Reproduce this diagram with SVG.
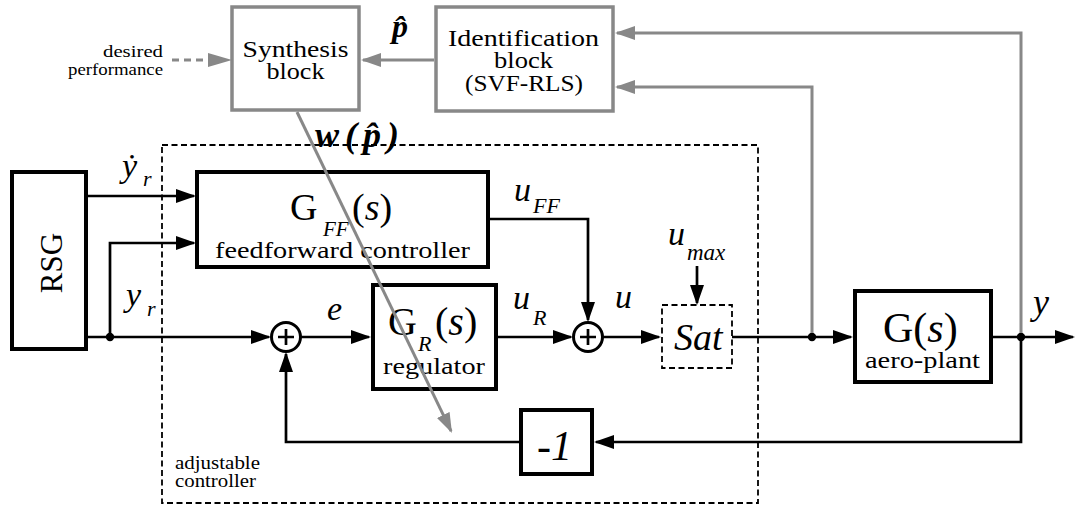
<svg xmlns="http://www.w3.org/2000/svg" width="1075" height="506" viewBox="0 0 1075 506" font-family="Liberation Serif">
<style>
text{font-family:'Liberation Serif','DejaVu Serif',serif}
.t{fill:#000}
.i{font-style:italic}
.b{font-weight:bold}
.blk{fill:#fff;stroke:#000;stroke-width:4}
.gbx{fill:#fff;stroke:#888;stroke-width:3.5}
.ln{fill:none;stroke:#000;stroke-width:2.7}
.lna{fill:none;stroke:#000;stroke-width:2.7;marker-end:url(#ab)}
.lng{fill:none;stroke:#888;stroke-width:3;marker-end:url(#ag)}
.sum{fill:#fff;stroke:#000;stroke-width:3}
.dsh{fill:none;stroke:#000;stroke-width:1.8;stroke-dasharray:6 3.5}
</style>
<defs>
<marker id="ab" markerUnits="userSpaceOnUse" markerWidth="20" markerHeight="14" refX="18" refY="7" orient="auto"><path d="M0,0 L20,7 L0,14 z" fill="#000"/></marker>
<marker id="ag" markerUnits="userSpaceOnUse" markerWidth="20" markerHeight="14" refX="18" refY="7" orient="auto"><path d="M0,0 L20,7 L0,14 z" fill="#888"/></marker>
</defs>
<rect width="1075" height="506" fill="#fff"/>

<g id="adjustable-controller">
<rect class="dsh" x="162" y="145" width="596" height="358"/>
<text class="t" font-size="18" x="175" y="469" textLength="85" lengthAdjust="spacingAndGlyphs">adjustable</text>
<text class="t" font-size="18" x="175" y="487" textLength="81" lengthAdjust="spacingAndGlyphs">controller</text>
</g>

<g id="synthesis">
<rect class="gbx" x="232" y="7" width="127" height="103"/>
<text class="t" font-size="24" x="242.5" y="57" textLength="106" lengthAdjust="spacingAndGlyphs">Synthesis</text>
<text class="t" font-size="24" x="266.5" y="79" textLength="58" lengthAdjust="spacingAndGlyphs">block</text>
</g>

<g id="identification">
<rect class="gbx" x="436" y="7" width="177" height="104"/>
<text class="t" font-size="23" x="448" y="46" textLength="151" lengthAdjust="spacingAndGlyphs">Identification</text>
<text class="t" font-size="23" x="494" y="68" textLength="59" lengthAdjust="spacingAndGlyphs">block</text>
<text class="t" font-size="23" x="465" y="91" textLength="118" lengthAdjust="spacingAndGlyphs">(SVF-RLS)</text>
</g>

<g id="desired-performance">
<text class="t" font-size="17" x="163" y="57" text-anchor="end" textLength="60" lengthAdjust="spacingAndGlyphs">desired</text>
<text class="t" font-size="17" x="163" y="75" text-anchor="end" textLength="95" lengthAdjust="spacingAndGlyphs">performance</text>
</g>

<g id="rsg">
<rect class="blk" x="12" y="172" width="74" height="177"/>
<text class="t" font-size="31" x="62" y="263" text-anchor="middle" transform="rotate(-90 62 263)">RSG</text>
</g>

<g id="feedforward">
<rect class="blk" x="197" y="172" width="291" height="95"/>
<text class="t" font-size="38" x="290" y="220">G</text>
<text class="t i" font-size="21" x="323" y="236">FF</text>
<text class="t" font-size="38" x="352" y="220">(<tspan class="i">s</tspan>)</text>
<text class="t" font-size="23" x="215" y="258" textLength="255" lengthAdjust="spacingAndGlyphs">feedforward controller</text>
</g>

<g id="regulator">
<rect class="blk" x="373" y="285" width="123" height="104"/>
<text class="t" font-size="40" x="388" y="335">G</text>
<text class="t i" font-size="22" x="418" y="351">R</text>
<text class="t" font-size="40" x="435" y="335">(<tspan class="i">s</tspan>)</text>
<text class="t" font-size="23" x="383" y="374" textLength="102" lengthAdjust="spacingAndGlyphs">regulator</text>
</g>

<g id="sum1">
<circle class="sum" cx="286" cy="337" r="14.5"/>
<path class="ln" d="M278,337 H294 M286,329 V345" stroke-width="3"/>
</g>

<g id="sum2">
<circle class="sum" cx="588" cy="337" r="14.5"/>
<path class="ln" d="M580,337 H596 M588,329 V345" stroke-width="3"/>
</g>

<g id="saturation">
<rect class="dsh" x="662" y="305" width="70" height="63" fill="#fff"/>
<text class="t i" font-size="38" x="674" y="350">Sat</text>
</g>

<g id="plant">
<rect class="blk" x="855" y="291" width="136" height="91"/>
<text class="t" font-size="42" x="883" y="342">G(<tspan class="i">s</tspan>)</text>
<text class="t" font-size="24" x="865" y="368" textLength="115" lengthAdjust="spacingAndGlyphs">aero-plant</text>
</g>

<g id="negation">
<rect class="blk" x="521" y="410" width="71" height="64"/>
<text class="t i" font-size="42" x="537" y="460">-1</text>
</g>

<g id="connectors">
<path class="lna" d="M86,196 H194"/>
<path class="lna" d="M110,337 V243 H194"/>
<path class="lna" d="M86,337 H269"/>
<path class="lna" d="M301,337 H369"/>
<path class="lna" d="M498,337 H571"/>
<path class="lna" d="M488,219 H588 V320"/>
<path class="lna" d="M603,337 H659"/>
<path class="lna" d="M697,266 V303"/>
<path class="lna" d="M732,337 H851"/>
<path class="lna" d="M993,337 H1073"/>
<path class="lna" d="M1021,337 V442 H596"/>
<path class="lna" d="M519,442 H286 V354"/>
<circle cx="110" cy="337" r="4.2" fill="#000"/>
<circle cx="812" cy="337" r="4.2" fill="#000"/>
<circle cx="1021" cy="337" r="4.2" fill="#000"/>
<path class="lng" d="M812,333 V87 H617"/>
<path class="lng" d="M1021,333 V33 H617"/>
<path class="lng" d="M434,60 H363"/>
<path d="M172,60 H212" fill="none" stroke="#888" stroke-width="3" stroke-dasharray="7 5"/>
<path d="M208,53 L232,60 L208,67 z" fill="#888"/>
<path class="lng" d="M297,112 L451.1,431.2"/>
</g>

<g id="labels">
<text class="t i" font-size="34" x="122" y="177">ẏ</text>
<text class="t i" font-size="22" x="143" y="186">r</text>
<text class="t i" font-size="34" x="126" y="306">y</text>
<text class="t i" font-size="22" x="147" y="316">r</text>
<text class="t i" font-size="34" x="327" y="320">e</text>
<text class="t i" font-size="34" x="514" y="201">u</text>
<text class="t i" font-size="22" x="533" y="213">FF</text>
<text class="t i" font-size="34" x="513" y="309">u</text>
<text class="t i" font-size="22" x="533" y="325">R</text>
<text class="t i" font-size="34" x="615" y="308">u</text>
<text class="t i" font-size="34" x="668" y="245">u</text>
<text class="t i" font-size="23" x="687" y="260">max</text>
<text class="t i" font-size="36" x="1033" y="314">y</text>
<text class="t i b" font-size="32" x="392" y="37">p̂</text>
<text class="t i b" font-size="36" x="315" y="147" letter-spacing="6">w(p̂)</text>
</g>
</svg>
